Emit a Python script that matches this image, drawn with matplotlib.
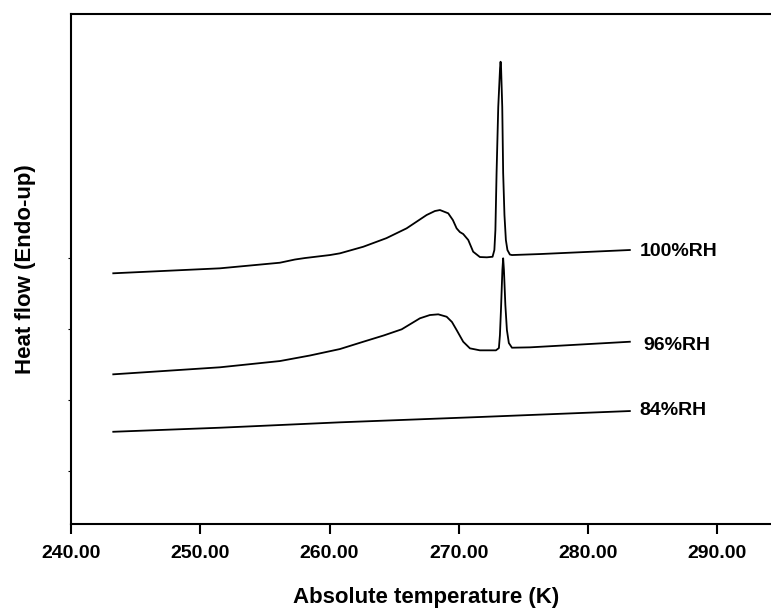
import matplotlib
matplotlib.use("Agg")
import matplotlib.pyplot as plt

plt.rcParams['font.family'] = ['Liberation Sans', 'DejaVu Sans']

# Temperature (K) and heat flow (arbitrary units, endo-up)
t_84 = [243.27, 251.52, 260.80, 271.63, 283.23]
h_84 = [0.553, 0.610, 0.686, 0.761, 0.845]

t_96 = [243.27, 251.52, 256.16, 258.48, 260.80, 262.61, 264.20, 265.58, 266.99, 267.76,
        268.41, 269.06, 269.47, 269.83, 270.34, 270.86, 271.63, 272.87, 273.10,
        273.18, 273.26, 273.37, 273.43, 273.49, 273.60, 273.72, 273.87, 274.11,
        275.50, 283.23]
h_96 = [1.362, 1.461, 1.549, 1.627, 1.718, 1.821, 1.910, 1.996, 2.151, 2.197,
        2.207, 2.173, 2.099, 1.986, 1.821, 1.728, 1.700, 1.700, 1.732,
        1.915, 2.268, 2.831, 2.996, 2.831, 2.338, 1.986, 1.803, 1.737,
        1.742, 1.821]

t_100 = [243.27, 251.52, 256.16, 257.32, 258.10, 260.03, 260.80, 262.61, 264.40, 265.96,
         267.51, 268.15, 268.54, 269.18, 269.54, 269.83, 270.08, 270.34, 270.73,
         271.11, 271.63, 272.17, 272.61, 272.75, 272.83, 272.92, 273.05, 273.19,
         273.23, 273.27, 273.36, 273.43, 273.53, 273.64, 273.76, 273.95, 274.11,
         276.27, 283.23]
h_100 = [2.785, 2.855, 2.934, 2.979, 3.000, 3.042, 3.066, 3.159, 3.280, 3.418,
         3.606, 3.662, 3.676, 3.630, 3.535, 3.418, 3.366, 3.338, 3.254,
         3.089, 3.014, 3.010, 3.018, 3.113, 3.394, 4.197, 5.127, 5.676,
         5.765, 5.676, 5.127, 4.197, 3.606, 3.254, 3.113, 3.049, 3.042,
         3.056, 3.113]

labels = ["100%RH", "96%RH", "84%RH"]
label_t = [284.0, 284.26, 284.0]
label_h = [3.085, 1.775, 0.859]

x_ticks = [240, 250, 260, 270, 280, 290]
x_tick_labels = ["240.00", "250.00", "260.00", "270.00", "280.00", "290.00"]
y_ticks = [0, 1, 2, 3]

fig = plt.figure(figsize=(7.71, 6.09), dpi=100)
ax = fig.add_axes([71/771, 85/609, 711/771, 510/609])

for t, h in [(t_100, h_100), (t_96, h_96), (t_84, h_84)]:
    ax.plot(t, h, color='black', lw=1.3, solid_joinstyle='round')

for lab, tx, hy in zip(labels, label_t, label_h):
    ax.text(tx, hy, lab, ha='left', va='center', fontsize=14, fontweight='bold')

ax.set_xlim(240, 295)
ax.set_ylim(-0.746, 6.437)
ax.set_xticks(x_ticks)
ax.set_xticklabels(x_tick_labels, fontsize=14, fontweight='bold')
ax.set_yticks(y_ticks)
ax.set_yticklabels([])
ax.tick_params(axis='x', length=7, width=1.5, pad=8, direction='out')
ax.tick_params(axis='y', length=2, width=0.8, direction='out')
for s in ax.spines.values():
    s.set_linewidth(1.5)

ax.set_xlabel("Absolute temperature (K)", fontsize=16, fontweight='bold')
ax.xaxis.label.set_va('center')
ax.xaxis.set_label_coords(0.5, -0.145)
ax.set_ylabel("Heat flow (Endo-up)", fontsize=16, fontweight='bold')
ax.yaxis.label.set_va('center')
ax.yaxis.set_label_coords(-0.064, 0.5)

fig.savefig("out.png", dpi=100)
